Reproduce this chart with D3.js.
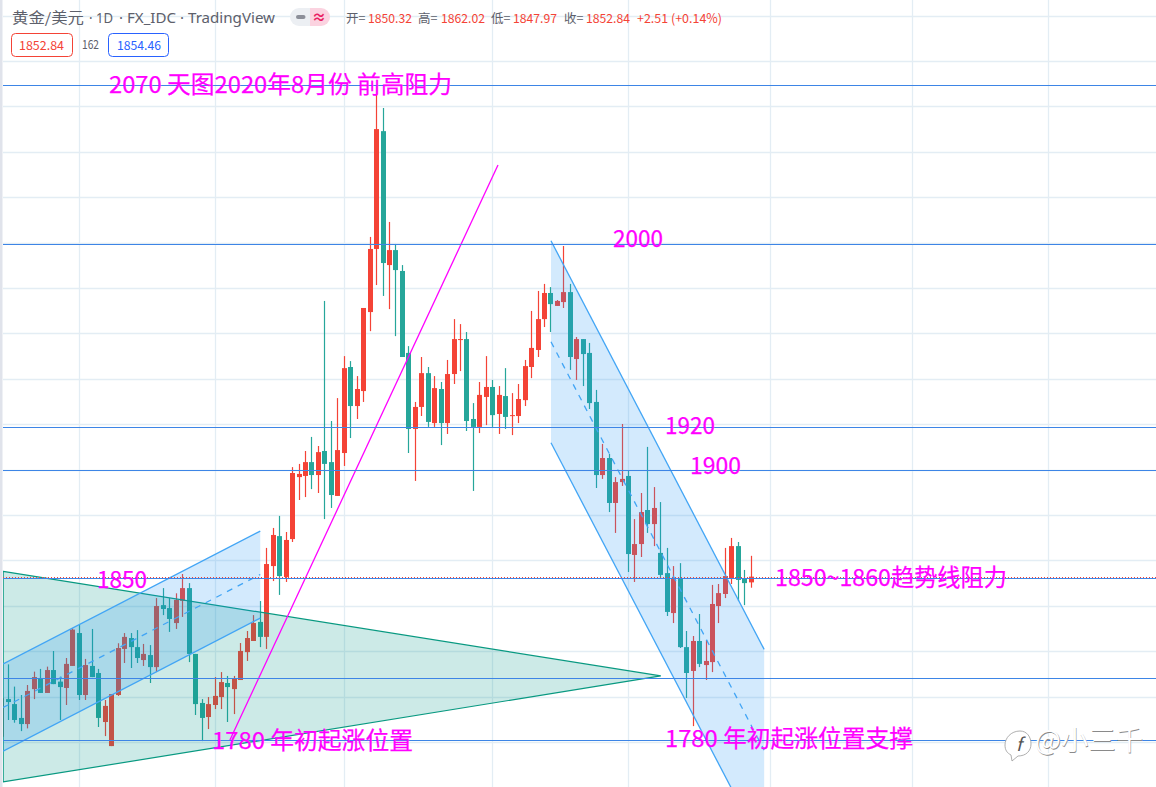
<!DOCTYPE html>
<html>
<head>
<meta charset="utf-8">
<title>黄金/美元</title>
<script src="https://cdnjs.cloudflare.com/ajax/libs/d3/7.8.5/d3.min.js"></script>
<style>
  html, body { margin: 0; padding: 0; background: #fff; overflow: hidden; }
  text { font-family: "Noto Sans CJK SC", "Noto Sans", sans-serif; }
</style>
</head>
<body>
<div id="chart"></div>
<script>
// daily candles, oldest first
var opens = [
  1782.3,1798.9,1796.7,1790.6,1787.9,1803.3,1807.9,1801.6,1811.7,1806.6,
  1803.8,1813.5,1828,1800.7,1813.5,1810.4,1788.8,1778.2,1800.7,1821,
  1825.8,1821.8,1816.1,1818.3,1813,1840.3,1839,1832.4,1842.2,1847.8,
  1818.8,1797.2,1791,1796.3,1799.8,1806,1803.3,1807.3,1819.6,1824.5,
  1832.9,1826.3,1857.5,1870.7,1852.7,1869.4,1896.7,1897.2,1903.3,1897.6,
  1908.2,1903.3,1888.4,1907.3,1945.2,1928,1934.6,1969.4,1997.2,2049.1,
  1990.1,1996.7,1987.5,1951.4,1917.9,1927.6,1942.5,1920.5,1935.5,1920.5,
  1942.1,1957.1,1957.5,1922.3,1918.8,1932,1936.4,1924.5,1932.4,1923.6,
  1923.6,1930.6,1945.2,1952.7,1966.3,1977.8,1972.1,1973.8,1978.2,1948.7,
  1957.5,1951.4,1929.8,1897.6,1905.1,1885.3,1894.5,1897.2,1862.4,1867.2,
  1882.2,1876,1863.3,1854.4,1836.8,1852.2,1821.8,1811.3,1824.5,1813.9,
  1815.2,1839.9,1845.2,1852.2,1866.3,1851.8,1850.32];
var highs = [
  1800.7,1814.2,1804.4,1800.7,1805.1,1811,1812.2,1813.2,1820.1,1808.8,
  1817,1830.1,1831.5,1816.6,1829.8,1812.2,1798.5,1801.1,1823.5,1828,
  1828,1829.3,1823.2,1822.7,1843.4,1847.8,1843.4,1845.5,1854,1850,
  1818.8,1798.9,1799.8,1808.6,1810.8,1809.1,1809.1,1823.6,1828.9,1835.9,
  1842.1,1865.5,1874.3,1879.6,1872.5,1901.1,1902.5,1908.2,1914.4,1910.4,
  1974.3,1921.4,1931.5,1950,1947.8,1941.2,1971.2,2002.5,2069.4,2059.3,
  2009.1,1999.4,1990.1,1954.4,1929.8,1949.6,1945.2,1941.2,1938.6,1948.3,
  1966.3,1964.1,1960.6,1929.3,1938.6,1950,1939.5,1936.8,1944.7,1933.7,
  1937.7,1948.3,1969.9,1978.7,1981.8,1980.4,1974.7,1998.5,1981.8,1958.4,
  1957.5,1955.8,1935.1,1911.3,1906.9,1896.7,1920.1,1899.4,1878.2,1889.7,
  1910,1892.3,1885.7,1865.5,1857.5,1858.8,1828.9,1826.7,1836.4,1824.9,
  1849.2,1849.6,1865.5,1869.9,1868.1,1855.8,1862.02];
var lows = [
  1780.1,1789.7,1788.5,1784.8,1786,1798.9,1801.6,1801.6,1805.5,1789.7,
  1796.3,1813.5,1798.5,1798.5,1808.6,1786.6,1782.6,1778.2,1800.3,1814.8,
  1812.6,1814.8,1813.5,1806,1810.8,1835.9,1828.5,1829.8,1835.1,1815.2,
  1791.9,1780.4,1785.7,1794.5,1794.5,1788.8,1792.3,1807.3,1815.7,1824.5,
  1821.8,1821,1850.9,1844.8,1850.5,1868.1,1886.6,1887.9,1891.4,1889.7,
  1878.2,1883.1,1888.4,1901.6,1913.9,1922.3,1929.8,1961,1981.3,1976.5,
  1970.7,1958.8,1949.6,1907.3,1895,1923.6,1918.8,1918.8,1910.8,1915.7,
  1937.7,1943.4,1917,1890.6,1916.1,1919.6,1918.8,1915.7,1917.9,1915.2,
  1920.5,1928,1940.3,1949.6,1962.8,1960.6,1972.1,1971.2,1943.9,1939.5,
  1936.8,1926.7,1891.9,1895.9,1881.3,1872.1,1892.8,1854.9,1850.5,1861.5,
  1872.1,1866.3,1852.2,1835.5,1832.4,1821.4,1799.4,1787,1813,1807.3,
  1810.8,1832.4,1843.4,1849.6,1842.1,1840.3,1847.97];
var closes = [
  1799.3,1797.6,1789.7,1787.9,1802.5,1808.6,1801.6,1811.7,1805.5,1804.2,
  1814.4,1829.5,1800.7,1813.9,1808.6,1790.6,1795.9,1801.1,1821.4,1826.3,
  1821.8,1817,1818.8,1813,1839.9,1838.6,1834.2,1842.6,1847.8,1818.8,
  1796.7,1790.6,1796.7,1800.3,1806.4,1804.2,1807.8,1820.1,1825.8,1832.4,
  1826.3,1858.4,1871.2,1853.1,1869,1898.5,1898.1,1903.3,1897.6,1907.7,
  1902.5,1888.8,1908.6,1944.7,1928,1935.5,1971.2,1997.2,2050,1991,
  1996.7,1987.9,1949.6,1917.9,1927.6,1942.5,1921,1935.9,1920.5,1942.1,
  1957.5,1957.5,1921.4,1918.8,1932.9,1936.4,1924,1932.9,1923.2,1924,
  1931.1,1945.6,1953.6,1966.3,1977.8,1972.9,1974.3,1978.2,1949.6,1957.5,
  1950.9,1929.3,1897.6,1905.1,1885.3,1894.5,1895.9,1862.8,1867.2,1881.3,
  1876,1883.1,1853.6,1837.3,1852.2,1821.8,1810.4,1824.5,1814.4,1815.7,
  1840.8,1845.6,1853.1,1866.3,1851.4,1850,1852.84];

// axis ticks (hidden price scale and time scale, only the grid shows)
var priceTicks = d3.range(1780, 2101, 20);
var timeTicks = [12, 33, 53, 76, 97, 119, 141, 162];

// horizontal levels drawn by the author, and the last close
var levels = [2069.5, 1999.4, 1918.8, 1899.8, 1852.3, 1808.2, 1781];
var lastClose = 1852.84;

// drawings as [bar, price]
var channelUp = { top: [[0.2, 1814.4], [40, 1872.9]], bottom: [[0.2, 1776], [40, 1834.6]], mid: [[0.2, 1795.2], [40, 1853.8]] };
var channelDown = { top: [[85, 2000.8], [118, 1820.8]], bottom: [[85, 1911.8], [118, 1732]], mid: [[85, 1956.3], [118, 1776.4]] };
var triangle = [[0.2, 1855.2], [102, 1809.1], [0.2, 1762.4]];
var trendLine = [[35.3, 1780.9], [76.8, 2034.2]];

var notes = [
  { text: "2070 天图2020年8月份 前高阻力", x: 109, y: 93, w: 343 },
  { text: "2000", x: 613, y: 247, w: 50 },
  { text: "1920", x: 665, y: 434, w: 50 },
  { text: "1900", x: 690, y: 474, w: 51 },
  { text: "1850", x: 97, y: 588, w: 50 },
  { text: "1850~1860趋势线阻力", x: 775, y: 586, w: 232 },
  { text: "1780 年初起涨位置", x: 212, y: 749, w: 201 },
  { text: "1780 年初起涨位置支撑", x: 665, y: 747, w: 248 }
];

// header pieces
var titleParts = [
  { text: "黄金/美元", x: 12, w: 72, font: "Noto Sans CJK SC" },
  { text: "· 1D", x: 89, w: 24, font: "Noto Sans" },
  { text: "· FX_IDC", x: 119, w: 57, font: "Noto Sans" },
  { text: "· TradingView", x: 180, w: 95, font: "Noto Sans" }
];
var ohlcLabels = ["开=", "高=", "低=", "收="];
var ohlcValues = ["1850.32", "1862.02", "1847.97", "1852.84"];
var ohlcLabelX = [346, 418, 491, 564];
var ohlcValueX = [368, 441, 513, 586];

var width = 1156, height = 787;
var upColor = "#f44336", downColor = "#26a69a", levelColor = "#3d85e6";

var svg = d3.select("#chart").append("svg")
  .attr("width", width)
  .attr("height", height)
  .style("display", "block");

var x = d3.scaleLinear().domain([0, 162]).range([1.87, 1048.4]);
var y = d3.scaleLinear().domain([1780, 2080]).range([742, 61]);
var line = d3.line().x(d => x(d[0])).y(d => y(d[1]));

svg.append("defs").append("clipPath").attr("id", "pane")
  .append("rect").attr("x", 3).attr("y", 0).attr("width", width - 3).attr("height", height);

// left edge strip
svg.append("rect").attr("width", 2.5).attr("height", height).attr("fill", "#e0e3eb");

var pane = svg.append("g").attr("clip-path", "url(#pane)");

// grid
pane.selectAll(".gridH").data(priceTicks).join("line")
  .attr("x1", 3).attr("x2", width)
  .attr("y1", d => Math.round(y(d)) + 0.5).attr("y2", d => Math.round(y(d)) + 0.5)
  .attr("stroke", "#e3edf4").attr("stroke-width", 1.3);
pane.selectAll(".gridV").data(timeTicks).join("line")
  .attr("x1", d => Math.floor(x(d)) + 0.5).attr("x2", d => Math.floor(x(d)) + 0.5)
  .attr("y1", 0).attr("y2", height)
  .attr("stroke", "#e3edf4").attr("stroke-width", 1.3);

// candles
var bars = pane.selectAll(".bar").data(d3.range(opens.length)).join("g");
bars.append("line")
  .attr("x1", i => Math.floor(x(i)) + 0.5).attr("x2", i => Math.floor(x(i)) + 0.5)
  .attr("y1", i => y(highs[i])).attr("y2", i => y(lows[i]))
  .attr("stroke", i => closes[i] >= opens[i] ? upColor : downColor)
  .attr("stroke-width", 1.2);
bars.append("rect")
  .attr("x", i => Math.floor(x(i)) - 2)
  .attr("width", 5)
  .attr("y", i => y(Math.max(opens[i], closes[i])))
  .attr("height", i => Math.max(1, Math.abs(y(opens[i]) - y(closes[i]))))
  .attr("fill", i => closes[i] >= opens[i] ? upColor : downColor);

// triangle
pane.append("path").attr("d", line(triangle) + "Z")
  .attr("fill", "#009688").attr("fill-opacity", 0.2)
  .attr("stroke", "#089981").attr("stroke-width", 1.2);

// parallel channels
function drawChannel(ch) {
  var edge = ch.top.concat(ch.bottom.slice().reverse());
  pane.append("path").attr("d", line(edge) + "Z")
    .attr("fill", "#2196f3").attr("fill-opacity", 0.2);
  pane.append("path").attr("d", line(ch.top)).attr("fill", "none").attr("stroke", "#42a5f5").attr("stroke-width", 1.3);
  pane.append("path").attr("d", line(ch.bottom)).attr("fill", "none").attr("stroke", "#42a5f5").attr("stroke-width", 1.3);
  pane.append("path").attr("d", line(ch.mid)).attr("fill", "none").attr("stroke", "#42a5f5").attr("stroke-width", 1.3)
    .attr("stroke-dasharray", "6 6");
}
drawChannel(channelUp);
drawChannel(channelDown);

// magenta trend line
pane.append("path").attr("d", line(trendLine)).attr("fill", "none")
  .attr("stroke", "#ff00ff").attr("stroke-width", 1.3);

// last close, dotted
pane.append("line")
  .attr("x1", 3).attr("x2", width)
  .attr("y1", Math.round(y(lastClose)) + 0.5).attr("y2", Math.round(y(lastClose)) + 0.5)
  .attr("stroke", upColor).attr("stroke-dasharray", "1 2");

// author levels
pane.selectAll(".level").data(levels).join("line")
  .attr("x1", 3).attr("x2", width)
  .attr("y1", d => Math.round(y(d)) + 0.5).attr("y2", d => Math.round(y(d)) + 0.5)
  .attr("stroke", levelColor).attr("stroke-width", 1.2);

// annotation text
svg.selectAll(".note").data(notes).join("text")
  .attr("x", d => d.x).attr("y", d => d.y)
  .attr("textLength", d => d.w).attr("lengthAdjust", "spacingAndGlyphs")
  .attr("font-size", 23.5)
  .attr("fill", "#ff00ff").attr("stroke", "#ff00ff").attr("stroke-width", 0.25)
  .text(d => d.text);

// header
var head = svg.append("g");
head.selectAll(".title").data(titleParts).join("text")
  .attr("x", d => d.x).attr("y", 23)
  .attr("font-size", 14.5).attr("fill", "#5d606b")
  .style("font-family", d => '"' + d.font + '", sans-serif')
  .attr("textLength", d => d.w).attr("lengthAdjust", "spacingAndGlyphs")
  .text(d => d.text);

head.append("path").attr("d", "M299,8 h11 v18 h-11 a9,9 0 0 1 0,-18Z").attr("fill", "#eceff3");
head.append("path").attr("d", "M310,8 h11 a9,9 0 0 1 0,18 h-11Z").attr("fill", "#fbd3e0");
head.append("rect").attr("x", 296).attr("y", 15).attr("width", 9.5).attr("height", 4).attr("rx", 2).attr("fill", "#8c8f99");
head.append("text").attr("x", 319).attr("y", 22).attr("text-anchor", "middle")
  .attr("font-size", 14).attr("font-weight", 700).attr("fill", "#e91e63").text("≈");

ohlcLabels.forEach((label, i) => {
  head.append("text").attr("x", ohlcLabelX[i]).attr("y", 23).attr("font-size", 12.5)
    .attr("fill", "#5d606b").text(label);
  head.append("text").attr("x", ohlcValueX[i]).attr("y", 23).attr("font-size", 12.5)
    .attr("textLength", 44).attr("lengthAdjust", "spacingAndGlyphs")
    .attr("fill", "#f44336").text(ohlcValues[i]);
});
head.append("text").attr("x", 637).attr("y", 23).attr("font-size", 12.5)
  .attr("textLength", 85).attr("lengthAdjust", "spacingAndGlyphs")
  .attr("fill", "#f44336").text("+2.51 (+0.14%)");

head.append("rect").attr("x", 11.5).attr("y", 33.5).attr("width", 61).attr("height", 23).attr("rx", 4)
  .attr("fill", "#fff").attr("stroke", "#f44336");
head.append("text").attr("x", 19).attr("y", 50)
  .attr("font-size", 12.5).attr("textLength", 45).attr("lengthAdjust", "spacingAndGlyphs")
  .attr("fill", "#f44336").text("1852.84");
head.append("text").attr("x", 82).attr("y", 49)
  .attr("font-size", 12.5).attr("textLength", 17).attr("lengthAdjust", "spacingAndGlyphs")
  .attr("fill", "#5d606b").text("162");
head.append("rect").attr("x", 108.5).attr("y", 33.5).attr("width", 60).attr("height", 23).attr("rx", 4)
  .attr("fill", "#fff").attr("stroke", "#2962ff");
head.append("text").attr("x", 117).attr("y", 50)
  .attr("font-size", 12.5).attr("textLength", 44).attr("lengthAdjust", "spacingAndGlyphs")
  .attr("fill", "#2962ff").text("1854.46");

// watermark: white letters with a faint grey edge
var mark = svg.append("g");
mark.append("path")
  .attr("d", "M1020,731 C1011,731 1005,738 1005,745 C1005,750 1007,753 1011,755 L1012,761 L1018,756 C1026,756 1031,751 1031,744 C1031,737 1027,731 1020,731Z")
  .attr("fill", "#fff").attr("stroke", "#9a9a9a").attr("stroke-width", 0.8);
mark.append("text").attr("x", 1019).attr("y", 751).attr("text-anchor", "middle")
  .attr("font-size", 18).attr("font-style", "italic").attr("fill", "#555").text("f");
mark.append("text").attr("x", 1035.7).attr("y", 750.7).attr("font-size", 27)
  .attr("textLength", 108).attr("lengthAdjust", "spacingAndGlyphs").attr("fill", "#8a8a8a").text("@小三千");
mark.append("text").attr("x", 1035).attr("y", 750).attr("font-size", 27)
  .attr("textLength", 108).attr("lengthAdjust", "spacingAndGlyphs").attr("fill", "#fff").text("@小三千");
</script>
</body>
</html>
